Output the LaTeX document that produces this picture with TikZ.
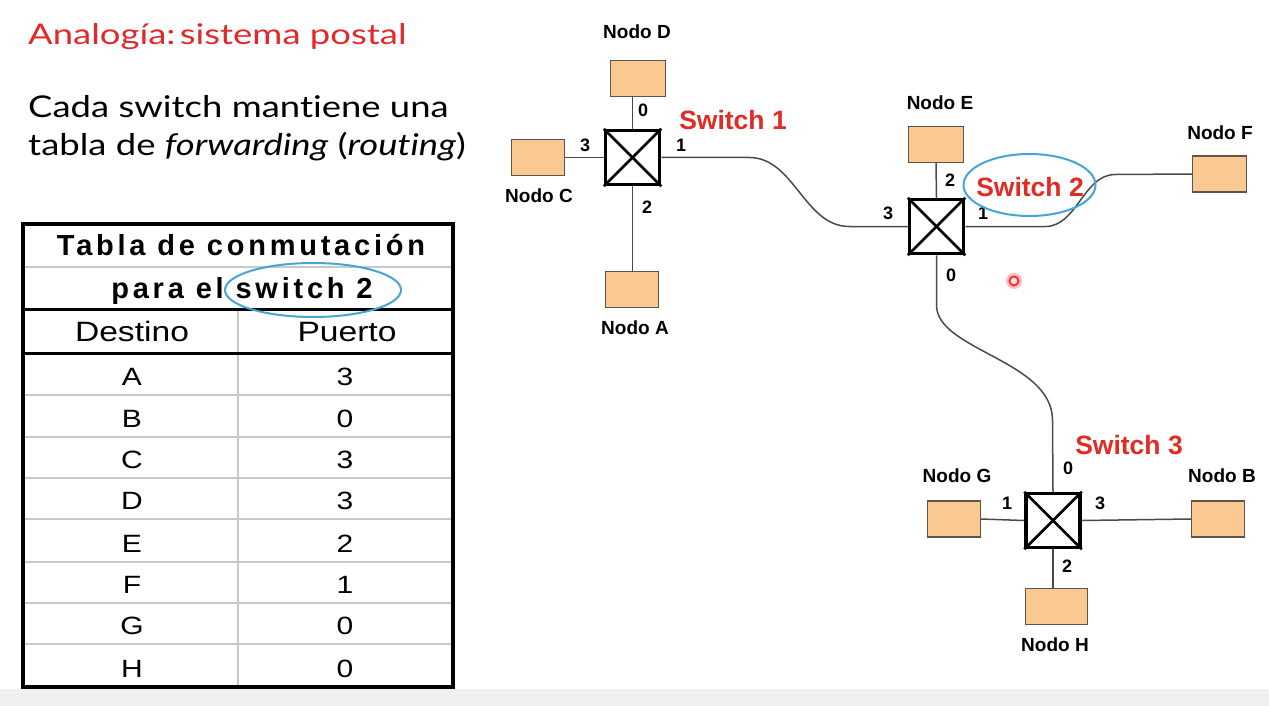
\documentclass[tikz,border=0pt]{standalone}
\usepackage{fontspec}
\usetikzlibrary{shapes.geometric}
\setmainfont{Liberation Sans}
\newfontfamily\titlefont[Ligatures=NoCommon]{Lato}
\newfontfamily\hdrfont[LetterSpace=13]{Liberation Sans}
\definecolor{titlered}{HTML}{E02A2A}
\definecolor{swred}{HTML}{E32B24}
\definecolor{tan}{HTML}{FAC891}
\definecolor{hostborder}{HTML}{5E5548}
\definecolor{linkgray}{HTML}{4A4A4A}
\definecolor{ringblue}{HTML}{45A6D6}
\definecolor{gridgray}{HTML}{C8C8C8}
\tikzset{
  host/.style={draw=hostborder, fill=tan, line width=1.2pt, minimum width=55pt, minimum height=36pt, inner sep=0},
  sw/.style={draw=black, line width=3.5pt, fill=white, minimum size=54pt, inner sep=0},
  lbl/.style={font=\bfseries\fontsize{19}{22}\selectfont, inner sep=0},
  port/.style={font=\bfseries\fontsize{18}{20}\selectfont, inner sep=0},
  swlbl/.style={font=\bfseries\fontsize{26.5}{30}\selectfont, text=swred, inner sep=0},
  link/.style={draw=linkgray, line width=1.5pt},
  xline/.style={draw=black, line width=2.6pt},
  ring/.style={draw=ringblue, line width=2pt},
  cell/.style={font=\fontsize{25}{28}\selectfont, inner sep=0, anchor=base},
  hdr/.style={font=\hdrfont\bfseries\fontsize{29}{32}\selectfont, inner sep=0, anchor=base},
}
\begin{document}
\begin{tikzpicture}[x=1pt,y=-1pt]
\useasboundingbox (0,0) rectangle (1269,706);
\fill[white] (0,0) rectangle (1269,706);
\fill[gray!12] (0,689) rectangle (1269,706);

% title and text
\node[anchor=base west, inner sep=0, text=titlered, font=\titlefont\fontsize{28.5}{32}\selectfont] (title) at (28,45) {\scalebox{1.28}[1]{Analogía:\hspace{0.12em}sistema postal}};
\node[anchor=base west, inner sep=0, font=\titlefont\fontsize{30}{36}\selectfont] (body1) at (28,118) {\scalebox{1.215}[1]{Cada switch mantiene una}};
\node[anchor=base west, inner sep=0, font=\titlefont\fontsize{30}{36}\selectfont] (body2) at (28,156) {\scalebox{1.215}[1]{tabla de \textit{forwarding} (\textit{routing})}};

% table
\draw[gridgray, line width=2pt] (23,267) -- (453,267);
\foreach \yy in {395,437,478,519,562,603,644} \draw[gridgray, line width=2pt] (23,\yy) -- (453,\yy);
\draw[gridgray, line width=2.5pt] (238,309) -- (238,687);
\draw[black, line width=3pt] (23,309) -- (453,309);
\draw[black, line width=3pt] (23,353) -- (453,353);
\draw[black, line width=3.5pt] (23,224) rectangle (453,687);
\node[hdr] (h1) at (241,255) {Tabla de conmutación};
\node[hdr] (h2) at (242,298) {para el switch 2};
\node[cell, font=\fontsize{28}{30}\selectfont] (cd) at (132,341) {\scalebox{1.2}[1]{Destino}};
\node[cell, font=\fontsize{28}{30}\selectfont] (cp) at (347,341) {\scalebox{1.2}[1]{Puerto}};
\foreach \d/\p/\yy [count=\i] in {A/3/385,B/0/427,C/3/468,D/3/509,E/2/552,F/1/593,G/0/634,H/0/677}{
  \node[cell] (d\i) at (132,\yy) {\scalebox{1.2}[1]{\d}};
  \node[cell] (p\i) at (345,\yy) {\scalebox{1.2}[1]{\p}};
}
\node[ring, ellipse, minimum width=176pt, minimum height=54pt, inner sep=0] (tring) at (313,290) {};

% switches
\node[sw] (s1) at (632.5,157.5) {};
\node[sw] (s2) at (936.5,226.5) {};
\node[sw] (s3) at (1053,520.5) {};
\foreach \s in {s1,s2,s3}{
  \draw[xline] (\s.north west) -- (\s.south east);
  \draw[xline] (\s.south west) -- (\s.north east);
}

% hosts
\node[host, minimum width=55pt] (nD) at (638,78.5) {};
\node[host, minimum width=53pt] (nC) at (538,157.5) {};
\node[host, minimum width=53pt] (nA) at (632,289.5) {};
\node[host] (nE) at (936,144.5) {};
\node[host, minimum width=54pt] (nF) at (1219.5,174) {};
\node[host, minimum width=53pt] (nG) at (954,519) {};
\node[host, minimum width=53pt] (nB) at (1218,519) {};
\node[host, minimum width=62pt] (nH) at (1056.5,606.5) {};

% host labels
\node[lbl] (lD) at (637,32) {Nodo D};
\node[lbl] (lC) at (539,196) {Nodo C};
\node[lbl] (lA) at (635,328) {Nodo A};
\node[lbl] (lE) at (940,103) {Nodo E};
\node[lbl] (lF) at (1220,133) {Nodo F};
\node[lbl] (lG) at (957,476) {Nodo G};
\node[lbl] (lB) at (1222,476) {Nodo B};
\node[lbl] (lH) at (1055,645) {Nodo H};

% links
\draw[link] (nD.south -| s1.north) -- (s1.north);
\draw[link] (nC.east) -- (s1.west);
\draw[link] (s1.south) -- (s1.south |- nA.north);
\draw[link] (nE.south) -- (s2.north);
\draw[link] (nG.east) -- (s3.west);
\draw[link] (s3.east) -- (nB.west);
\draw[link] (s3.south) -- (s3.south |- nH.north);
\draw[link] (s1.east) -- ++(88,0) .. controls +(45,0) and +(-45,0) .. ++(100,69) -- (s2.west);
\draw[link] (s2.east) -- ++(80,0) .. controls +(32,0) and +(-32,0) .. ++(70,-52) -- (nF.west);
\draw[link] (s2.south) -- ++(0,50) .. controls +(0,45) and +(0,-60) .. ++(116,115) -- (s3.north);

% port labels
\node[port] (p10) at (643,110) {0};
\node[port] (p13) at (585,145) {3};
\node[port] (p11) at (681,145) {1};
\node[port] (p12) at (647,207) {2};
\node[port] (p22) at (950,180) {2};
\node[port] (p23) at (888,213) {3};
\node[port] (p21) at (983,213) {1};
\node[port] (p20) at (951,275) {0};
\node[port] (p30) at (1068,468) {0};
\node[port] (p31) at (1007,503) {1};
\node[port] (p33) at (1100,503) {3};
\node[port] (p32) at (1067,566) {2};

% switch labels
\node[swlbl] (sl1) at (733,120) {Switch 1};
\node[swlbl] (sl2) at (1030,187) {Switch 2};
\node[swlbl] (sl3) at (1129,445) {Switch 3};
\node[ring, ellipse, minimum width=132pt, minimum height=62pt, inner sep=0] (sring) at (1029.5,185) {};

% pointer dot
\fill[red!25] (1014,281) circle (8);
\draw[red!80, fill=red!10, line width=2pt] (1014,281) circle (4.5);
\end{tikzpicture}
\end{document}
